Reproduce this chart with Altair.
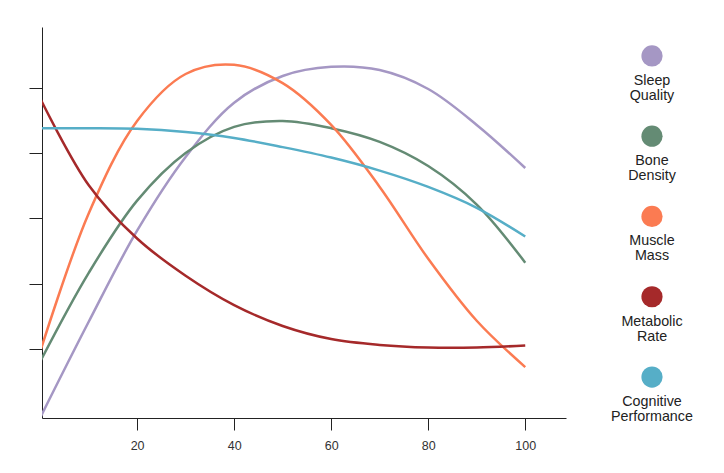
import altair as alt
import pandas as pd

# x positions (age-like axis)
x_vals = [0, 10, 20, 30, 40, 50, 60, 70, 80, 90, 100]

# series values (arbitrary units; ticks at 1..5)
sleep_quality = [-0.06, 1.41, 2.81, 3.94, 4.77, 5.18, 5.32, 5.27, 4.98, 4.43, 3.77]
bone_density = [0.80, 2.16, 3.27, 4.00, 4.40, 4.49, 4.38, 4.17, 3.80, 3.21, 2.32]
muscle_mass = [0.95, 3.07, 4.49, 5.21, 5.35, 5.07, 4.43, 3.48, 2.38, 1.43, 0.72]
metabolic_rate = [4.84, 3.51, 2.69, 2.12, 1.67, 1.35, 1.15, 1.06, 1.02, 1.02, 1.05]
cognitive_perf = [4.38, 4.38, 4.37, 4.32, 4.23, 4.09, 3.93, 3.73, 3.48, 3.16, 2.72]

series_names = ["Sleep Quality", "Bone Density", "Muscle Mass", "Metabolic Rate", "Cognitive Performance"]
series_labels = [["Sleep", "Quality"], ["Bone", "Density"], ["Muscle", "Mass"], ["Metabolic", "Rate"], ["Cognitive", "Performance"]]
series_colors = ["#a597c4", "#648b74", "#fb7b52", "#a5292a", "#56aec7"]
series_values = [sleep_quality, bone_density, muscle_mass, metabolic_rate, cognitive_perf]

x_ticks = [20, 40, 60, 80, 100]
y_ticks = [1, 2, 3, 4, 5]

rows = []
for name, vals in zip(series_names, series_values):
    for xv, yv in zip(x_vals, vals):
        rows.append({"series": name, "x": xv, "y": yv})
df = pd.DataFrame(rows)

color_scale = alt.Scale(domain=series_names, range=series_colors)

lines = alt.Chart(df).mark_line(strokeWidth=2.5, interpolate="catmull-rom", clip=True).encode(
    x=alt.X("x:Q", scale=alt.Scale(domain=[0.4, 108.4], nice=False, zero=False),
            axis=alt.Axis(values=x_ticks, title=None, grid=False, domainColor="#222",
                          tickColor="#222", tickSize=12, labelFontSize=12.5,
                          labelColor="#333", labelPadding=9, labelFont="Liberation Sans")),
    y=alt.Y("y:Q", scale=alt.Scale(domain=[-0.06, 5.93], nice=False, zero=False),
            axis=alt.Axis(values=y_ticks, title=None, grid=False, labels=False,
                          domainColor="#222", tickColor="#222", tickSize=13)),
    color=alt.Color("series:N", scale=color_scale, legend=None),
    detail="series:N",
).properties(width=524, height=391)

leg_df = pd.DataFrame({
    "series": series_names,
    "idx": list(range(len(series_names))),
    "label": series_labels,
    "col": ["a"] * len(series_names),
})

leg_base = alt.Chart(leg_df).encode(
    x=alt.X("col:N", axis=None),
    y=alt.Y("idx:Q", axis=None, scale=alt.Scale(domain=[4.51, -0.36], nice=False, zero=False)),
)
leg_pts = leg_base.mark_point(filled=True, shape="circle", size=450, opacity=1).encode(
    color=alt.Color("series:N", scale=color_scale, legend=None)
)
leg_txt = leg_base.mark_text(baseline="top", dy=18, fontSize=14.3, lineHeight=15,
                             color="#222", font="Liberation Sans").encode(text="label")
legend = (leg_pts + leg_txt).properties(width=80, height=391)

chart = alt.hconcat(lines, legend, spacing=45).properties(
    padding={"left": 28, "top": 27, "right": 5, "bottom": 5}
).configure_view(stroke=None)

chart.save("out.html", embed_options={"renderer": "svg", "actions": False})
